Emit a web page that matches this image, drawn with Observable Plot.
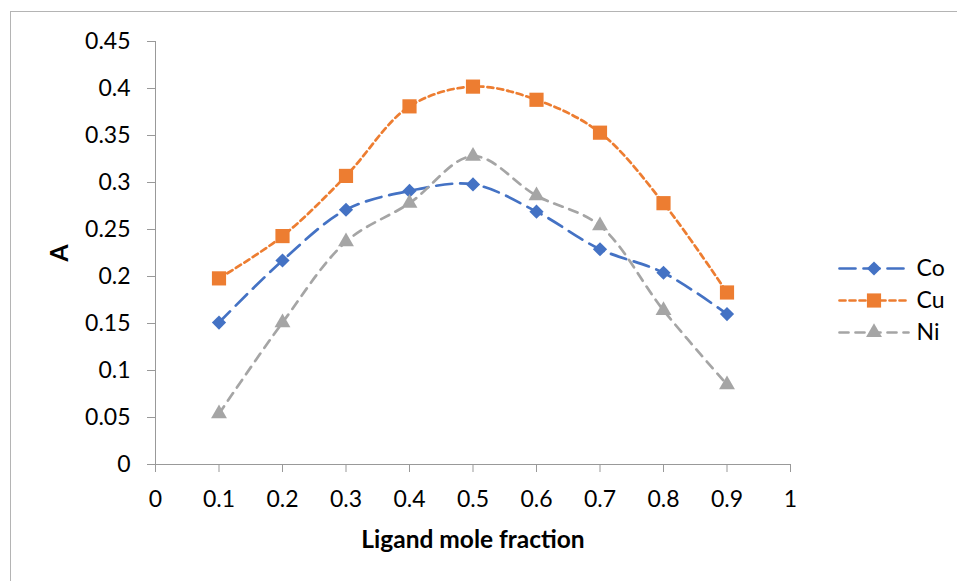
<!DOCTYPE html>
<html><head><meta charset="utf-8">
<script src="https://cdn.jsdelivr.net/npm/d3@7"></script>
<script src="https://cdn.jsdelivr.net/npm/@observablehq/plot@0.6"></script>
<style>
html,body{margin:0;padding:0;background:#fff;overflow:hidden;}
#wrap{position:relative;width:957px;height:581px;overflow:hidden;font-family:Lato,"Open Sans",sans-serif;}
#frame{position:absolute;left:10px;top:11px;width:1200px;height:1200px;border:1px solid #b4b4b4;}
#chart{position:absolute;left:0;top:0;}
#legend{position:absolute;left:830px;top:226px;}
g[aria-label="y-axis label"] text, g[aria-label="x-axis label"] text{font-weight:bold;font-size:24.5px;}
</style></head>
<body><div id="wrap"><div id="frame"></div><div id="chart"></div><div id="legend"></div></div>
<script>
const xValues = [0.1, 0.2, 0.3, 0.4, 0.5, 0.6, 0.7, 0.8, 0.9];
const coValues = [0.151, 0.217, 0.271, 0.291, 0.298, 0.269, 0.229, 0.204, 0.160];
const cuValues = [0.198, 0.243, 0.307, 0.381, 0.402, 0.388, 0.353, 0.278, 0.183];
const niValues = [0.054, 0.151, 0.237, 0.278, 0.328, 0.286, 0.254, 0.164, 0.085];
const seriesNames = ["Co", "Cu", "Ni"];
const seriesColors = ["#4472C4", "#ED7D31", "#A5A5A5"];
const seriesDash = ["16,8", "6,4", "9,7"];
const seriesSymbols = ["diamond2", "square", "triangle"];
const seriesR = [6.4, 8, 5.9];
const yTicks = [0, 0.05, 0.1, 0.15, 0.2, 0.25, 0.3, 0.35, 0.4, 0.45];
const xTicks = [0, 0.1, 0.2, 0.3, 0.4, 0.5, 0.6, 0.7, 0.8, 0.9, 1];
const xTitle = "Ligand mole fraction";
const yTitle = "A";

const valueSets = [coValues, cuValues, niValues];
const rows = seriesNames.flatMap((s, i) => xValues.map((x, j) => ({series: s, x, y: valueSets[i][j]})));
const fmt = v => String(+v.toFixed(2));
const FONT = "Lato, 'Open Sans', sans-serif";

const lineMarks = seriesNames.map((s, i) => Plot.line(rows.filter(d => d.series === s), {
  x: "x", y: "y", stroke: seriesColors[i], strokeWidth: 2.7, strokeDasharray: seriesDash[i], curve: "catmull-rom"
}));
const dotMarks = seriesNames.map((s, i) => Plot.dot(rows.filter(d => d.series === s), {
  x: "x", y: "y", symbol: () => seriesSymbols[i], r: seriesR[i], fill: seriesColors[i], stroke: "none"
}));

const chart = Plot.plot({
  width: 957, height: 581,
  marginLeft: 155, marginRight: 167, marginTop: 41, marginBottom: 117,
  style: {fontSize: "23px", fontFamily: FONT, color: "#000", background: "transparent"},
  x: {domain: [0, 1]},
  y: {domain: [0, 0.45]},
  symbol: {type: "identity"},
  marks: [
    Plot.axisY({ticks: yTicks, tickFormat: fmt, tickSize: 8, tickPadding: 17, stroke: "#999", label: yTitle, labelAnchor: "center", labelArrow: "none", labelOffset: 105, fontSize: 23}),
    Plot.axisX({ticks: xTicks, tickFormat: fmt, tickSize: 8, tickPadding: 18, stroke: "#999", label: xTitle, labelAnchor: "center", labelArrow: "none", labelOffset: 83, fontSize: 23}),
    Plot.ruleX([0], {stroke: "#999"}),
    Plot.ruleY([0], {stroke: "#999"}),
    ...lineMarks,
    ...dotMarks
  ]
});
document.getElementById("chart").appendChild(chart);

// legend as a small Plot
const legRows = seriesNames.flatMap((s, i) => [0, 1].map(x => ({series: s, x, i})));
const legend = Plot.plot({
  width: 127, height: 150,
  marginLeft: 9, marginRight: 49, marginTop: 0, marginBottom: 0,
  style: {fontSize: "23px", fontFamily: FONT, background: "transparent"},
  x: {domain: [0, 1], axis: null},
  y: {type: "point", domain: seriesNames, range: [25, 122], axis: null},
  symbol: {type: "identity"},
  marks: [
    ...seriesNames.map((s, i) => Plot.line(legRows.filter(d => d.series === s), {x: "x", y: "series", stroke: seriesColors[i], strokeWidth: 2.7, strokeDasharray: seriesDash[i]})),
    ...seriesNames.map((s, i) => Plot.dot([s], {x: () => 0.5, y: d => d, symbol: () => seriesSymbols[i], r: seriesR[i], fill: seriesColors[i]})),
    Plot.text(seriesNames, {x: () => 1, y: d => d, text: d => d, textAnchor: "start", dx: 8, fill: "#000", fontSize: 23})
  ]
});
document.getElementById("legend").appendChild(legend);
</script></body></html>
